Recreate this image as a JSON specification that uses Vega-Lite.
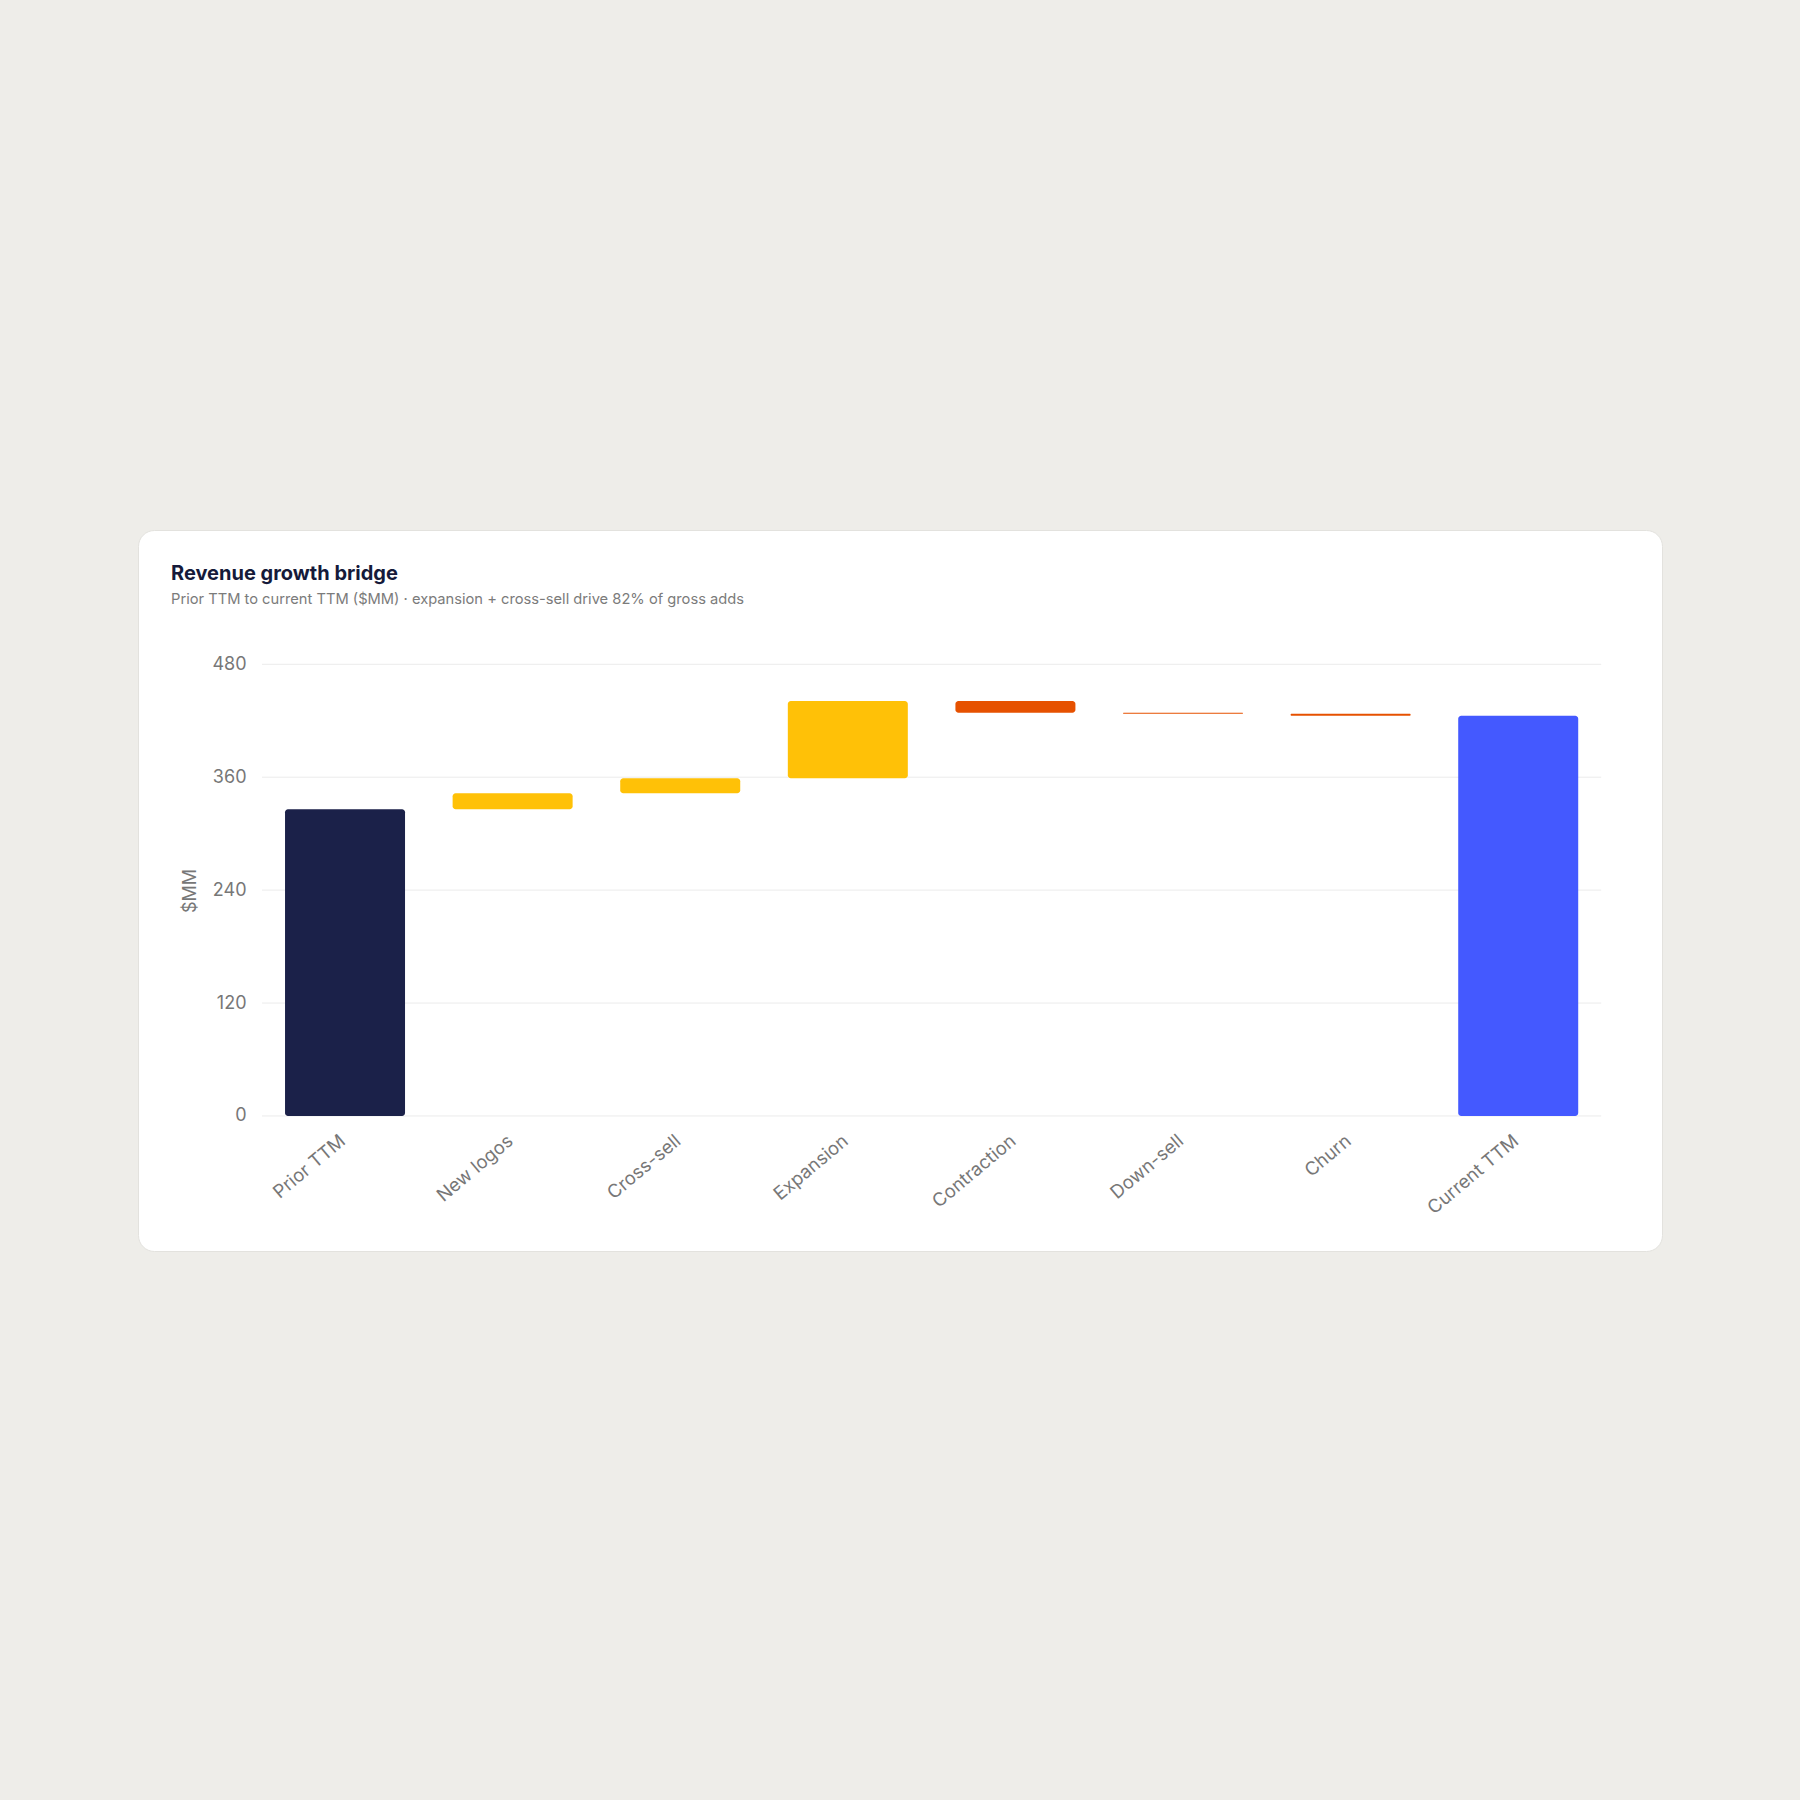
{
  "$schema": "https://vega.github.io/schema/vega-lite/v6.json",
  "width": 1524,
  "height": 721,
  "autosize": {"type": "none"},
  "padding": {"left": 138, "top": 530, "right": 138, "bottom": 549},
  "background": "#eeede9",
  "config": {
    "font": "Inter",
    "view": {"fill": "#ffffff", "stroke": "#e3e2de", "strokeWidth": 1, "cornerRadius": 16}
  },
  "title": {
    "text": "Revenue growth bridge",
    "subtitle": "Prior TTM to current TTM ($MM) · expansion + cross-sell drive 82% of gross adds",
    "anchor": "start",
    "frame": "group",
    "orient": "top",
    "offset": -77,
    "dx": 33,
    "font": "Inter",
    "fontSize": 20,
    "fontWeight": 700,
    "color": "#151a3a",
    "subtitleFont": "Inter",
    "subtitleFontSize": 14.7,
    "subtitleColor": "#7b7b7b",
    "subtitlePadding": 8
  },
  "layer": [
    {
      "data": {"values": [{"v": 0}, {"v": 120}, {"v": 240}, {"v": 360}, {"v": 480}]},
      "mark": {"type": "rule", "color": "#ebebeb", "strokeWidth": 1},
      "encoding": {
        "y": {
          "field": "v",
          "type": "quantitative",
          "scale": {"domain": [-143.5, 622.7], "nice": false, "zero": false},
          "axis": {
            "title": "$MM",
            "values": [0, 120, 240, 360, 480],
            "offset": -124,
            "domain": false,
            "ticks": false,
            "grid": false,
            "labelPadding": 16,
            "labelFontSize": 18,
            "labelColor": "#777777",
            "labelFont": "Inter",
            "titleFont": "Inter",
            "titleFontSize": 18,
            "titleFontWeight": 400,
            "titleColor": "#777777",
            "titlePadding": 12
          }
        },
        "x": {
          "datum": "Prior TTM",
          "type": "nominal",
          "bandPosition": -0.1917,
          "scale": {
            "domain": ["Prior TTM", "New logos", "Cross-sell", "Expansion", "Contraction", "Down-sell", "Churn", "Current TTM"],
            "paddingInner": 0.284, "paddingOuter": 0.6886, "align": 0.637
          },
          "axis": {
            "title": null,
            "offset": -135,
            "domain": false,
            "ticks": false,
            "labelAngle": -40,
            "labelPadding": 15,
            "labelOffset": -8,
            "labelFontSize": 18.5,
            "labelColor": "#777777",
            "labelFont": "Inter"
          }
        },
        "x2": {"datum": "Current TTM", "bandPosition": 1.1917}
      }
    },
    {
      "data": {
        "values": [
          {"step": "Prior TTM", "start": 0, "end": 326, "kind": "start"},
          {"step": "New logos", "start": 326, "end": 343, "kind": "increase"},
          {"step": "Cross-sell", "start": 343, "end": 359, "kind": "increase"},
          {"step": "Expansion", "start": 359, "end": 441, "kind": "increase"},
          {"step": "Contraction", "start": 441, "end": 428.5, "kind": "decrease"},
          {"step": "Down-sell", "start": 428.5, "end": 427.5, "kind": "decrease"},
          {"step": "Churn", "start": 427.5, "end": 425.4, "kind": "decrease"},
          {"step": "Current TTM", "start": 0, "end": 425.4, "kind": "end"}
        ]
      },
      "mark": {"type": "bar", "cornerRadius": 3},
      "encoding": {
        "x": {
          "field": "step",
          "type": "nominal",
          "scale": {
            "domain": ["Prior TTM", "New logos", "Cross-sell", "Expansion", "Contraction", "Down-sell", "Churn", "Current TTM"],
            "paddingInner": 0.284, "paddingOuter": 0.6886, "align": 0.637
          },
          "axis": {
            "title": null,
            "offset": -135,
            "domain": false,
            "ticks": false,
            "labelAngle": -40,
            "labelPadding": 15,
            "labelOffset": -8,
            "labelFontSize": 18.5,
            "labelColor": "#777777",
            "labelFont": "Inter"
          }
        },
        "y": {
          "field": "start",
          "type": "quantitative",
          "scale": {"domain": [-143.5, 622.7], "nice": false, "zero": false},
          "axis": {
            "title": "$MM",
            "values": [0, 120, 240, 360, 480],
            "offset": -124,
            "domain": false,
            "ticks": false,
            "grid": false,
            "labelPadding": 16,
            "labelFontSize": 18,
            "labelColor": "#777777",
            "labelFont": "Inter",
            "titleFont": "Inter",
            "titleFontSize": 18,
            "titleFontWeight": 400,
            "titleColor": "#777777",
            "titlePadding": 12
          }
        },
        "y2": {"field": "end"},
        "color": {
          "field": "kind",
          "type": "nominal",
          "legend": null,
          "scale": {
            "domain": ["start", "increase", "decrease", "end"],
            "range": ["#1b2149", "#ffc107", "#e65100", "#4459ff"]
          }
        }
      }
    }
  ]
}
